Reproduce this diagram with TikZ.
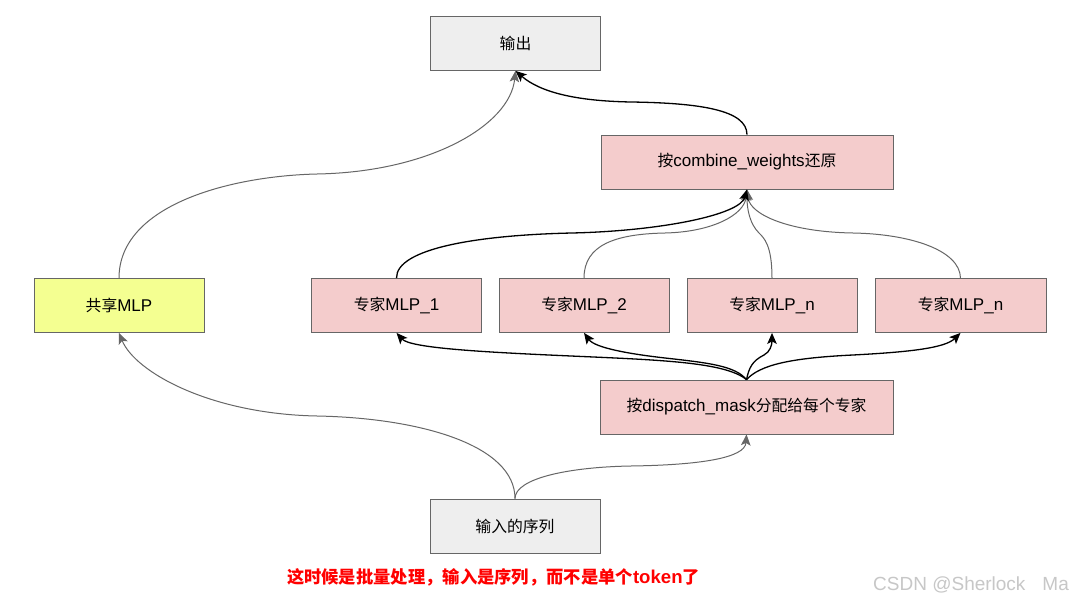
\documentclass[tikz,border=0pt]{standalone}
\usepackage{fontspec}
\setmainfont{Liberation Sans}
\newfontfamily\cjk[Scale=0.93]{Noto Sans CJK SC}
\usetikzlibrary{arrows.meta}
\definecolor{edgegray}{HTML}{666666}
\definecolor{boxgray}{HTML}{666666}
\definecolor{fillgray}{HTML}{EEEEEE}
\definecolor{fillpink}{HTML}{F4CCCC}
\definecolor{fillyellow}{HTML}{F4FF91}
\begin{document}
\begin{tikzpicture}[x=1pt,y=-1pt,
  box/.style={draw=boxgray, line width=0.8pt, minimum width=170pt, minimum height=54pt, inner sep=0pt, font=\fontsize{17}{19}\selectfont},
  grayln/.style={draw=edgegray, line width=1pt, -{Stealth[length=11pt,width=9.5pt,inset=2.5pt]}},
  blackln/.style={draw=black, line width=1.3pt, -{Stealth[length=11pt,width=9.5pt,inset=2.5pt]}},
  grayrev/.style={draw=edgegray, line width=1pt, {Stealth[length=11pt,width=9.5pt,inset=2.5pt]}-},
  blackrev/.style={draw=black, line width=1.3pt, {Stealth[length=11pt,width=9.5pt,inset=2.5pt]}-}]
\useasboundingbox (0,0) rectangle (1072,602);
\fill[white] (0,0) rectangle (1072,602);

\node[box, fill=fillgray] (out) at (515.5,43.5) {{\cjk 输出}};
\node[box, fill=fillpink, minimum width=292pt] (comb) at (747,162) {{\cjk 按}combine\_weights{\cjk 还原}};
\node[box, fill=fillyellow] (shared) at (119,305.5) {{\cjk 共享}MLP};
\node[box, fill=fillpink] (e1) at (396.5,305.5) {{\cjk 专家}MLP\_1};
\node[box, fill=fillpink] (e2) at (584,305.5) {{\cjk 专家}MLP\_2};
\node[box, fill=fillpink] (e3) at (772,305.5) {{\cjk 专家}MLP\_n};
\node[box, fill=fillpink, minimum width=171pt] (e4) at (960.5,305.5) {{\cjk 专家}MLP\_n};
\node[box, fill=fillpink, minimum width=293pt] (disp) at (746.5,407) {{\cjk 按}dispatch\_mask{\cjk 分配给每个专家}};
\node[box, fill=fillgray] (inp) at (515,526) {{\cjk 输入的序列}};

\node[text=red, font=\fontsize{18.6}{20}\selectfont\bfseries] (note) at (493.5,577)
  {{\cjk\bfseries 这时候是批量处理，输入是序列，而不是单个}token{\cjk\bfseries 了}};
\node[text=black!22, anchor=west, font=\fontsize{19}{21}\selectfont, inner sep=0pt] (wm) at (873,585) {CSDN @Sherlock\hspace{17pt}Ma};

% shared -> out
\draw[grayln] (shared.north) .. controls (119,205) and (230,176) .. (317,174) .. controls (430,172) and (510,125) .. (out.south);
% comb -> out
\draw[blackln] (comb.north) .. controls (747,110) and (700,103) .. (631,102) .. controls (575,101) and (540,92) .. (out.south);
% experts -> comb
\draw[grayln] (e4.north) .. controls (960,250) and (910,234) .. (853,233) .. controls (790,232) and (750,215) .. (comb.south);
\draw[grayln] (e3.north) .. controls (772,245) and (764,238) .. (759,233) .. controls (750,224) and (747,210) .. (comb.south);
\draw[grayln] (e2.north) .. controls (584,245) and (615,234) .. (665,233) .. controls (712,232) and (744,215) .. (comb.south);
\draw[blackln] (e1.north) .. controls (396,248) and (480,235) .. (572,233) .. controls (660,231) and (740,215) .. (comb.south);
% dispatch -> experts
\draw[blackrev] (e1.south) .. controls (410,348) and (480,352) .. (571,356) .. controls (660,360) and (725,362) .. (disp.north);
\draw[blackrev] (e2.south) .. controls (595,348) and (630,354) .. (665,358) .. controls (710,363) and (735,366) .. (disp.north);
\draw[blackrev] (e3.south) .. controls (772,345) and (770,352) .. (764,355) .. controls (752,361) and (749,368) .. (disp.north);
\draw[blackrev] (e4.south) .. controls (945,348) and (910,352) .. (853,355) .. controls (790,358) and (760,365) .. (disp.north);
% input -> shared, dispatch
\draw[grayrev] (shared.south) .. controls (135,372) and (210,414) .. (317,416) .. controls (420,418) and (515,445) .. (inp.north);
\draw[grayrev] (disp.south) .. controls (745,458) and (700,465) .. (631,466) .. controls (570,467) and (515,478) .. (inp.north);
\end{tikzpicture}
\end{document}
